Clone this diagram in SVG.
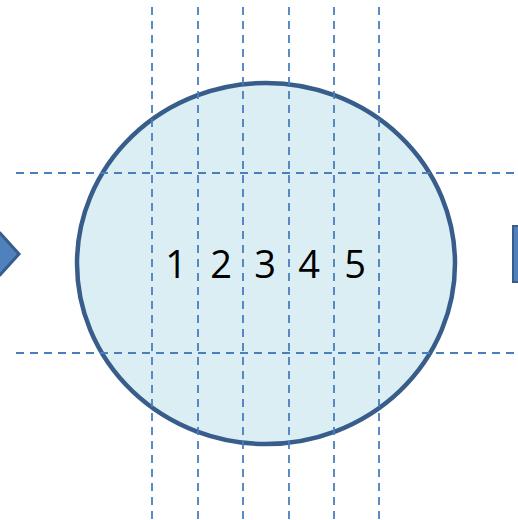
<svg xmlns="http://www.w3.org/2000/svg" width="518" height="520" viewBox="0 0 518 520">
<style>
.grid{stroke:#4a7ebf;stroke-width:1.8;stroke-dasharray:8 6;fill:none}
.num{font-family:"Open Sans","Liberation Sans",Arial,sans-serif;font-size:38px;fill:#000;text-anchor:middle}
</style>
<rect width="518" height="520" fill="#fff"/>
<g id="left-arrow"><path d="M-20,233 L0,233 L19,254 L0,275 L-20,275 Z" fill="#4f81bd" stroke="#385d8a" stroke-width="3"/></g>
<g id="right-bar"><rect x="513" y="226" width="8" height="56" fill="#4f81bd" stroke="#385d8a" stroke-width="2"/></g>
<g id="circle"><ellipse cx="266" cy="263.5" rx="189" ry="180.5" fill="#dbeef3" stroke="#385d8a" stroke-width="4.5"/></g>
<g id="connectors">
<line class="grid" x1="152" y1="7" x2="152" y2="520"/>
<line class="grid" x1="198" y1="7" x2="198" y2="520"/>
<line class="grid" x1="243" y1="7" x2="243" y2="520"/>
<line class="grid" x1="289" y1="7" x2="289" y2="520"/>
<line class="grid" x1="334" y1="7" x2="334" y2="520"/>
<line class="grid" x1="379" y1="7" x2="379" y2="520"/>
<line class="grid" x1="16" y1="173" x2="518" y2="173"/>
<line class="grid" x1="16" y1="353" x2="518" y2="353"/>
</g>
<g id="labels">
<text class="num" x="176" y="278">1</text>
<text class="num" x="221" y="278">2</text>
<text class="num" x="265" y="278">3</text>
<text class="num" x="309" y="278">4</text>
<text class="num" x="355" y="278">5</text>
</g>
</svg>
